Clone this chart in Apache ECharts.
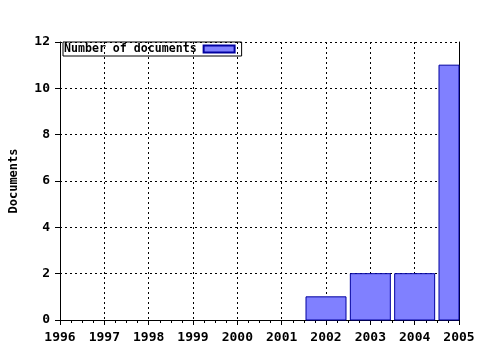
<!DOCTYPE html>
<html><head><meta charset="utf-8">
<script src="https://cdn.jsdelivr.net/npm/echarts@6/dist/echarts.min.js"></script>
<style>html,body{margin:0;padding:0;background:#fff}#c{width:480px;height:350px}</style>
</head><body><div id="c"></div>
<script>
const years = [2002, 2003, 2004, 2005];
const docs = [1, 2, 2, 11];
const seriesName = 'Number of documents';
const yTitle = 'Documents';
const font = '"DejaVu Sans Mono", monospace';
const chart = echarts.init(document.getElementById('c'), null, {renderer: 'canvas'});
const axisCommon = {
  type: 'value', min: 1996, max: 2005, interval: 1,
  axisLine: {lineStyle: {color: '#000', width: 1}},
  minorTick: {show: true, splitNumber: 4, length: 3, lineStyle: {color: '#000'}},
};
const BAR_W = 40;
chart.setOption({
  animation: false,
  grid: {left: 57, right: 21, top: 42, bottom: 30},
  legend: {
    left: 63, top: 42, orient: 'horizontal', align: 'right',
    itemWidth: 31, itemHeight: 7, itemGap: 4,
    padding: [1, 6, 1, 1],
    borderColor: '#000', borderWidth: 1, borderRadius: 0,
    textStyle: {fontFamily: font, fontWeight: 'bold', fontSize: 11.6, color: '#000', padding: [0, 2, 0, 0]},
    data: [{name: seriesName, icon: 'rect'}]
  },
  xAxis: [
    Object.assign({}, axisCommon, {
      position: 'bottom',
      axisTick: {show: true, length: 5, lineStyle: {color: '#000'}},
      axisLabel: {color: '#000', fontFamily: font, fontWeight: 'bold', fontSize: 13, margin: 11,
        formatter: v => String(v)},
      splitLine: {show: true, lineStyle: {color: '#000', type: [2, 3], width: 1}}
    }),
    Object.assign({}, axisCommon, {
      position: 'top',
      axisTick: {show: true, inside: true, length: 5, lineStyle: {color: '#000'}},
      minorTick: {show: true, splitNumber: 4, length: 3, lineStyle: {color: '#000'}},
      axisLabel: {show: false},
      splitLine: {show: false}
    })
  ],
  yAxis: [
    {
      type: 'value', min: 0, max: 12, interval: 2, position: 'left',
      name: yTitle, nameLocation: 'middle', nameGap: 40, nameRotate: 90,
      nameTextStyle: {color: '#000', fontFamily: font, fontWeight: 'bold', fontSize: 12},
      axisLine: {show: true, lineStyle: {color: '#000'}},
      axisTick: {show: true, length: 5, lineStyle: {color: '#000'}},
      axisLabel: {color: '#000', fontFamily: font, fontWeight: 'bold', fontSize: 13, margin: 10},
      splitLine: {show: true, lineStyle: {color: '#000', type: [2, 3], width: 1}}
    },
    {
      type: 'value', min: 0, max: 12, interval: 2, position: 'right',
      axisLine: {show: true, lineStyle: {color: '#000'}},
      axisTick: {show: false}, axisLabel: {show: false}, splitLine: {show: false}
    }
  ],
  series: [{
    name: seriesName, type: 'custom', xAxisIndex: 0, yAxisIndex: 0,
    itemStyle: {color: '#8080ff', borderColor: '#0000a0', borderWidth: 1},
    encode: {x: 0, y: 1},
    renderItem: function (params, api) {
      const top = api.coord([api.value(0), api.value(1)]);
      const base = api.coord([api.value(0), 0]);
      const rect = {x: top[0] - BAR_W / 2, y: top[1], width: BAR_W, height: base[1] - top[1]};
      const cs = params.coordSys;
      const clipped = echarts.graphic.clipRectByRect(rect, {x: cs.x, y: cs.y, width: cs.width, height: cs.height});
      return clipped && {
        type: 'rect', shape: clipped,
        style: {fill: '#8080ff', stroke: '#0000a0', lineWidth: 1}
      };
    },
    data: years.map((y, i) => [y, docs[i]])
  }]
});
</script></body></html>
